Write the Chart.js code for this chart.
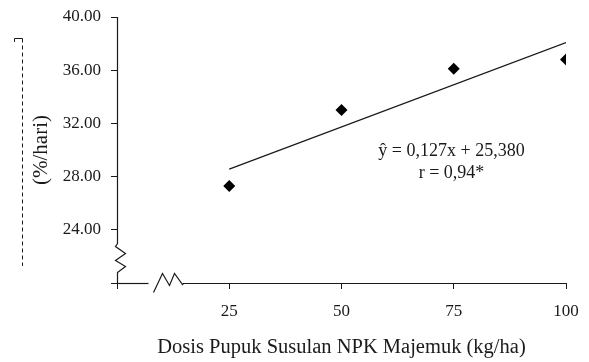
<!DOCTYPE html>
<html>
<head>
<meta charset="utf-8">
<script src="https://cdn.jsdelivr.net/npm/chart.js@4"></script>
<style>
  body { margin: 0; background: #fff; }
  #chart { display: block; }
</style>
</head>
<body>
<canvas id="chart" width="589" height="362"></canvas>
<script>
// data
const dosis = [25, 50, 75, 100];
const laju = [27.3, 33.0, 36.1, 36.8];
const trendX = [25, 100];
const trendY = [28.56, 38.08];
const xTicks = [25, 50, 75, 100];
const yTicks = [24, 28, 32, 36, 40];
const persamaan = 'ŷ = 0,127x + 25,380';
const korelasi = 'r = 0,94*';

const FONT = 'Liberation Serif, Times New Roman, serif';
const INK = '#1a1a1a';

// garis sumbu dengan tanda patah
const axisBreaks = {
    id: 'axisBreaks',
    afterDraw(chart) {
        const c = chart.ctx;
        const xs = chart.scales.x;
        const ys = chart.scales.y;
        const x0 = Math.round(xs.getPixelForValue(0)) + 0.5;
        const y0 = Math.round(ys.getPixelForValue(20)) + 0.5;
        const yTop = ys.getPixelForValue(40);
        const xEnd = xs.getPixelForValue(100);

        c.save();
        c.strokeStyle = INK;
        c.lineWidth = 1.2;

        // sumbu y
        c.beginPath();
        c.moveTo(x0, yTop);
        c.lineTo(x0, y0 - 40);
        c.lineTo(x0 - 2, y0 - 37);
        c.lineTo(x0 + 8, y0 - 30);
        c.lineTo(x0 - 2, y0 - 23);
        c.lineTo(x0 + 8, y0 - 17);
        c.lineTo(x0, y0 - 11);
        c.lineTo(x0, y0);
        c.stroke();

        // sumbu x
        c.beginPath();
        c.moveTo(x0, y0);
        c.lineTo(x0 + 31, y0);
        c.stroke();
        c.beginPath();
        c.moveTo(x0 + 36, y0 + 9);
        c.lineTo(x0 + 45, y0 - 10);
        c.lineTo(x0 + 52, y0 + 2);
        c.lineTo(x0 + 57, y0 - 10);
        c.lineTo(x0 + 65, y0 + 1);
        c.lineTo(x0 + 66, y0);
        c.lineTo(xEnd, y0);
        c.stroke();

        // sisa label terpotong di kiri
        c.lineWidth = 1;
        c.beginPath();
        c.moveTo(14.5, 42);
        c.lineTo(14.5, 38.5);
        c.lineTo(22.5, 38.5);
        c.stroke();
        c.setLineDash([4, 3]);
        c.beginPath();
        c.moveTo(22.5, 38.5);
        c.lineTo(22.5, 266);
        c.stroke();
        c.setLineDash([]);

        // persamaan regresi
        c.fillStyle = INK;
        c.font = '18px ' + FONT;
        c.textAlign = 'center';
        c.textBaseline = 'middle';
        c.fillText(persamaan, xs.getPixelForValue(74.5), ys.getPixelForValue(29.9));
        c.fillText(korelasi, xs.getPixelForValue(74.5), ys.getPixelForValue(28.25));
        c.restore();
    }
};

new Chart(document.getElementById('chart'), {
    type: 'scatter',
    data: {
        datasets: [
            {
                data: dosis.map((d, i) => ({ x: d, y: laju[i] })),
                pointStyle: 'rectRot',
                pointRadius: 6,
                backgroundColor: '#000',
                borderColor: '#000',
                borderWidth: 0
            },
            {
                type: 'line',
                data: trendX.map((d, i) => ({ x: d, y: trendY[i] })),
                borderColor: INK,
                borderWidth: 1.3,
                pointRadius: 0,
                fill: false
            }
        ]
    },
    options: {
        responsive: false,
        animation: false,
        layout: { padding: { top: 17, right: 23, left: 0, bottom: 0 } },
        plugins: {
            legend: { display: false },
            tooltip: { enabled: false }
        },
        scales: {
            x: {
                type: 'linear',
                min: 0,
                max: 100,
                afterBuildTicks: s => { s.ticks = [0].concat(xTicks).map(v => ({ value: v })); },
                afterFit: s => { s.height = 79; s.paddingLeft = 0; s.paddingRight = 0; },
                border: { display: false },
                grid: { drawOnChartArea: false, color: INK, tickLength: 6, lineWidth: 1 },
                ticks: {
                    color: INK,
                    padding: 12,
                    font: { family: FONT, size: 17 },
                    callback: v => v === 0 ? '' : v
                },
                title: {
                    display: true,
                    text: 'Dosis Pupuk Susulan NPK Majemuk (kg/ha)',
                    color: INK,
                    font: { family: FONT, size: 20.5 },
                    padding: { top: 0, bottom: 2 }
                }
            },
            y: {
                min: 20,
                max: 40,
                afterBuildTicks: s => { s.ticks = [20].concat(yTicks).map(v => ({ value: v })); },
                afterFit: s => { s.width = 117; s.paddingTop = 0; s.paddingBottom = 0; },
                border: { display: false },
                grid: { drawOnChartArea: false, color: INK, tickLength: 6, lineWidth: 1 },
                ticks: {
                    color: INK,
                    padding: 10,
                    font: { family: FONT, size: 17 },
                    callback: v => v === 20 ? '' : v.toFixed(2)
                },
                title: {
                    display: true,
                    text: '(%/hari)',
                    color: INK,
                    font: { family: FONT, size: 21 },
                    padding: { top: 29, bottom: 0 }
                }
            }
        }
    },
    plugins: [axisBreaks]
});
</script>
</body>
</html>
